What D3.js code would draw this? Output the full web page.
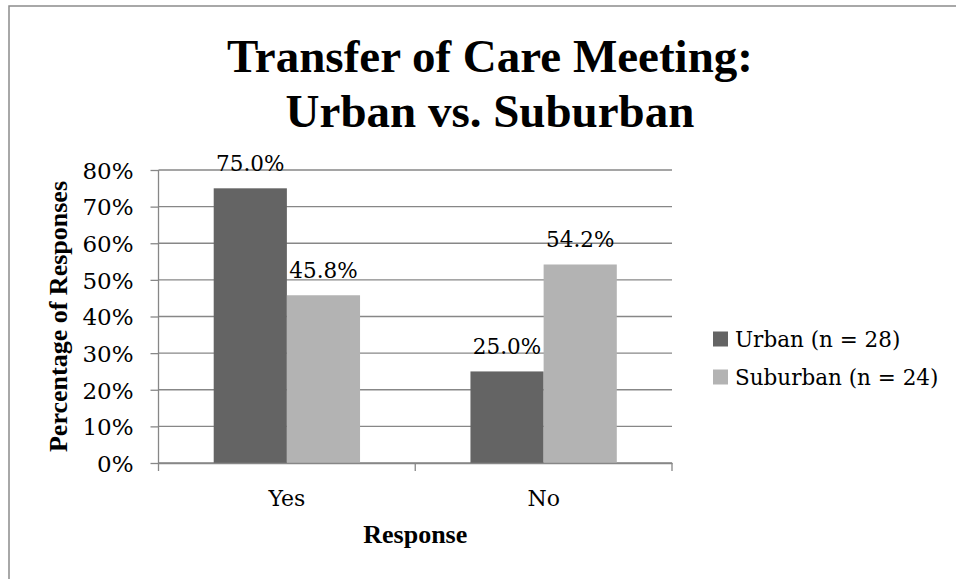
<!DOCTYPE html>
<html>
<head>
<meta charset="utf-8">
<script src="https://cdn.jsdelivr.net/npm/d3@7"></script>
<style>
  body { margin: 0; background: #fff; }
  .tick text { font-family: "DejaVu Serif", serif; fill: #000; }
</style>
</head>
<body>
<div class="chart-container"></div>
<script>
const categories = ["Yes", "No"];
const seriesNames = ["Urban (n = 28)", "Suburban (n = 24)"];
const urbanValues = [75.0, 25.0];
const suburbanValues = [45.8, 54.2];
const yTickValues = [0, 10, 20, 30, 40, 50, 60, 70, 80];
const titleLines = ["Transfer of Care Meeting:", "Urban vs. Suburban"];

const w = 956;
const h = 579;
const plot = { left: 158.5, right: 672, top: 170, bottom: 463 };
const colors = ["#646464", "#b3b3b3"];
const lineColor = "#878787";
const labelFont = "'DejaVu Serif', serif";
const boldFont = "'Liberation Serif', 'Times New Roman', serif";

const seriesValues = [urbanValues, suburbanValues];
const rows = categories.map((c, i) => ({
    category: c,
    values: seriesNames.map((s, j) => ({ series: s, idx: j, value: seriesValues[j][i] }))
}));

const svg = d3.select(".chart-container")
    .append("svg")
    .attr("width", w)
    .attr("height", h);

// outer chart border (cropped at right/bottom)
svg.append("rect")
    .attr("x", 9).attr("y", 6)
    .attr("width", w + 20).attr("height", h + 20)
    .attr("fill", "none")
    .attr("stroke", "#8c8c8c")
    .attr("stroke-width", 1.5);

svg.append("text")
    .attr("text-anchor", "middle")
    .style("font-family", boldFont)
    .style("font-weight", "bold")
    .style("font-size", "47px")
    .selectAll("tspan")
    .data(titleLines)
    .enter()
    .append("tspan")
    .attr("x", 490)
    .attr("y", (d, i) => 72 + i * 55)
    .text(d => d);

const yScale = d3.scaleLinear()
    .domain([0, 80])
    .range([plot.bottom, plot.top]);

const x0 = d3.scaleBand()
    .domain(categories)
    .range([plot.left, plot.right])
    .paddingInner(0.43)
    .paddingOuter(0.215);

const x1 = d3.scaleBand()
    .domain(seriesNames)
    .range([0, x0.bandwidth()]);

// gridlines
svg.append("g")
    .selectAll("line")
    .data(yTickValues)
    .enter()
    .append("line")
    .attr("x1", plot.left)
    .attr("x2", plot.right)
    .attr("y1", d => yScale(d))
    .attr("y2", d => yScale(d))
    .attr("stroke", lineColor)
    .attr("stroke-width", 1.3);

// bars
const groups = svg.append("g")
    .selectAll("g")
    .data(rows)
    .enter()
    .append("g")
    .attr("transform", d => `translate(${x0(d.category)},0)`);

groups.selectAll("rect")
    .data(d => d.values)
    .enter()
    .append("rect")
    .attr("x", d => x1(d.series))
    .attr("y", d => yScale(d.value))
    .attr("width", x1.bandwidth())
    .attr("height", d => plot.bottom - yScale(d.value))
    .attr("fill", d => colors[d.idx]);

groups.selectAll("text")
    .data(d => d.values)
    .enter()
    .append("text")
    .attr("x", d => x1(d.series) + x1.bandwidth() / 2)
    .attr("y", d => yScale(d.value) - 17)
    .attr("text-anchor", "middle")
    .style("font-family", labelFont)
    .style("font-size", "21.5px")
    .text(d => d.value.toFixed(1) + "%");

// y axis
const yAxis = d3.axisLeft(yScale)
    .tickValues(yTickValues)
    .tickFormat(d => d + "%")
    .tickSize(8)
    .tickPadding(17);

const yG = svg.append("g")
    .attr("transform", `translate(${plot.left},0)`)
    .call(yAxis);
yG.select(".domain").attr("stroke", lineColor).attr("stroke-width", 1.3).attr("d", `M0,${plot.top}V${plot.bottom}`);
yG.selectAll(".tick line").attr("stroke", lineColor).attr("stroke-width", 1.3);
yG.selectAll(".tick text").attr("dy", "0.36em").style("font-size", "23px");

// x axis
const xAxis = d3.axisBottom(x0)
    .tickSize(0)
    .tickPadding(27);

const xG = svg.append("g")
    .attr("transform", `translate(0,${plot.bottom})`)
    .call(xAxis);
xG.select(".domain").attr("stroke", lineColor).attr("stroke-width", 1.3);
xG.selectAll(".tick text").style("font-size", "22px");

const halfGap = (x0.step() - x0.bandwidth()) / 2;
const boundaries = categories.map(c => x0(c) - halfGap).concat([plot.right]);
xG.selectAll(".boundary")
    .data(boundaries)
    .enter()
    .append("line")
    .attr("class", "boundary")
    .attr("x1", d => d).attr("x2", d => d)
    .attr("y1", 0).attr("y2", 8)
    .attr("stroke", lineColor)
    .attr("stroke-width", 1.3);

// axis titles
svg.append("text")
    .attr("text-anchor", "middle")
    .attr("transform", `translate(67,${(plot.top + plot.bottom) / 2}) rotate(-90)`)
    .style("font-family", boldFont)
    .style("font-weight", "bold")
    .style("font-size", "26px")
    .text("Percentage of Responses");

svg.append("text")
    .attr("text-anchor", "middle")
    .attr("x", (plot.left + plot.right) / 2)
    .attr("y", 543)
    .style("font-family", boldFont)
    .style("font-weight", "bold")
    .style("font-size", "26px")
    .text("Response");

// legend
const legend = svg.append("g")
    .selectAll("g")
    .data(seriesNames)
    .enter()
    .append("g")
    .attr("transform", (d, i) => `translate(713,${339 + i * 38})`);

legend.append("rect")
    .attr("x", 0).attr("y", -7.5)
    .attr("width", 15).attr("height", 15)
    .attr("fill", (d, i) => colors[i]);

legend.append("text")
    .attr("x", 22)
    .attr("y", 7.5)
    .style("font-family", labelFont)
    .style("font-size", "21.5px")
    .text(d => d);
</script>
</body>
</html>
